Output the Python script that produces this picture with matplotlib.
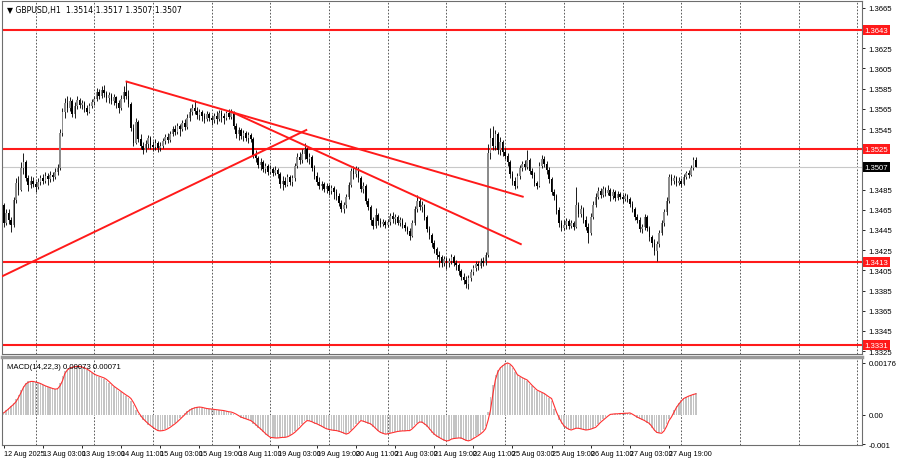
import matplotlib
matplotlib.use("Agg")
import matplotlib.pyplot as plt
import numpy as np

plt.rcParams["font.family"] = ["Liberation Sans", "DejaVu Sans"]

# GBPUSD H1, prices in 1/10000 above 1 (3507 -> 1.3507); bar 0 = 12 Aug 11:00
first_open = 3470
closes = [
    3452, 3462, 3455, 3450, 3475, 3492, 3485, 3506, 3512, 3496,
    3490, 3494, 3491, 3488, 3493, 3496, 3494, 3498, 3495, 3499,
    3497, 3502, 3506, 3541, 3562, 3571, 3566, 3573, 3560, 3568,
    3574, 3569, 3571, 3566, 3562, 3568, 3572, 3575, 3582, 3578,
    3584, 3581, 3576, 3579, 3573, 3577, 3571, 3566, 3575, 3582,
    3578, 3570, 3546, 3531, 3552, 3535, 3528, 3524, 3530, 3536,
    3529, 3527, 3531, 3526, 3528, 3533, 3537, 3534, 3540, 3545,
    3542, 3548, 3545, 3551, 3547, 3556, 3562, 3566, 3563, 3559,
    3562, 3558, 3555, 3560, 3556, 3554, 3558, 3555, 3561, 3558,
    3556, 3561, 3557, 3562, 3548, 3540, 3544, 3538, 3541, 3536,
    3539, 3535, 3519, 3516, 3509, 3512, 3505, 3508, 3502, 3505,
    3501, 3504, 3500, 3491, 3494, 3490, 3497, 3493, 3496, 3508,
    3517, 3514, 3520, 3525, 3515, 3517, 3506, 3498, 3493, 3489,
    3491, 3486, 3489, 3484, 3487, 3483, 3479, 3472, 3466, 3470,
    3478, 3490, 3503, 3500, 3505, 3496, 3486, 3489, 3474, 3468,
    3455, 3449, 3460, 3454, 3451, 3453, 3450, 3453, 3459, 3456,
    3458, 3452, 3455, 3450, 3447, 3444, 3439, 3452, 3466, 3474,
    3468, 3470, 3458, 3446, 3440, 3432, 3426, 3420, 3418, 3412,
    3416, 3412, 3414, 3418, 3412, 3410, 3404, 3398, 3395, 3392,
    3397, 3403, 3407, 3411, 3409, 3414, 3412, 3420, 3521, 3536,
    3528, 3540, 3524, 3532, 3522, 3518, 3512, 3500, 3494, 3489,
    3498, 3506, 3510, 3507, 3514, 3503, 3499, 3492, 3489, 3508,
    3515, 3510, 3504, 3495, 3483, 3479, 3465, 3452, 3447, 3450,
    3454, 3449, 3452, 3448, 3470, 3461, 3466, 3455, 3448, 3442,
    3458, 3470, 3478, 3484, 3480, 3486, 3482, 3485, 3479, 3483,
    3477, 3481, 3478, 3476, 3479, 3476, 3471, 3466, 3458, 3455,
    3446, 3448, 3458, 3447, 3438, 3432, 3424, 3431, 3442, 3452,
    3463, 3474, 3497, 3494, 3496, 3492, 3494, 3491, 3497, 3501,
    3499, 3506, 3514, 3507,
]
highs = [
    3472, 3466, 3466, 3458, 3478, 3496, 3498, 3512, 3521, 3514,
    3499, 3498, 3497, 3494, 3496, 3499, 3500, 3502, 3501, 3503,
    3502, 3506, 3510, 3545, 3566, 3576, 3578, 3577, 3575, 3572,
    3578, 3576, 3574, 3573, 3569, 3571, 3575, 3578, 3586, 3585,
    3588, 3589, 3583, 3582, 3581, 3580, 3578, 3574, 3579, 3588,
    3593, 3584, 3572, 3550, 3556, 3554, 3540, 3532, 3534, 3539,
    3538, 3533, 3535, 3533, 3532, 3536, 3540, 3541, 3543, 3548,
    3549, 3551, 3550, 3554, 3555, 3560, 3566, 3570, 3574, 3567,
    3565, 3564, 3561, 3563, 3562, 3559, 3561, 3563, 3564, 3564,
    3561, 3563, 3565, 3565, 3563, 3551, 3547, 3546, 3544, 3543,
    3542, 3541, 3537, 3524, 3518, 3516, 3514, 3511, 3510, 3509,
    3507, 3508, 3506, 3502, 3498, 3497, 3500, 3499, 3499, 3511,
    3521, 3522, 3525, 3531, 3527, 3521, 3519, 3509, 3502, 3497,
    3494, 3493, 3492, 3491, 3490, 3489, 3486, 3482, 3475, 3473,
    3481, 3493, 3506, 3508, 3508, 3507, 3498, 3493, 3491, 3477,
    3470, 3458, 3467, 3462, 3457, 3456, 3455, 3456, 3462, 3463,
    3461, 3460, 3458, 3457, 3453, 3449, 3447, 3455, 3469, 3480,
    3477, 3474, 3471, 3460, 3449, 3442, 3435, 3428, 3424, 3420,
    3419, 3418, 3417, 3421, 3420, 3415, 3412, 3406, 3402, 3399,
    3400, 3406, 3410, 3414, 3414, 3417, 3418, 3423, 3530, 3546,
    3548, 3544, 3542, 3537, 3534, 3526, 3521, 3514, 3503, 3497,
    3501, 3509, 3513, 3514, 3524, 3516, 3506, 3502, 3494, 3512,
    3519, 3518, 3513, 3507, 3497, 3486, 3481, 3468, 3455, 3455,
    3457, 3456, 3455, 3454, 3488, 3473, 3470, 3468, 3459, 3452,
    3462, 3474, 3482, 3488, 3487, 3489, 3488, 3490, 3487, 3486,
    3485, 3484, 3483, 3481, 3482, 3481, 3478, 3474, 3468, 3461,
    3458, 3451, 3461, 3460, 3449, 3440, 3436, 3434, 3445, 3455,
    3466, 3478, 3500, 3500, 3499, 3498, 3497, 3496, 3500, 3503,
    3504, 3509, 3517, 3517,
]
lows = [
    3448, 3450, 3451, 3443, 3448, 3472, 3480, 3484, 3500, 3494,
    3484, 3487, 3488, 3483, 3486, 3490, 3491, 3492, 3490, 3493,
    3494, 3495, 3499, 3504, 3538, 3556, 3562, 3563, 3557, 3556,
    3565, 3566, 3565, 3562, 3559, 3561, 3566, 3569, 3573, 3575,
    3576, 3577, 3572, 3571, 3570, 3569, 3566, 3561, 3564, 3572,
    3575, 3567, 3543, 3528, 3530, 3532, 3525, 3520, 3522, 3526,
    3525, 3523, 3524, 3522, 3523, 3526, 3530, 3531, 3532, 3538,
    3539, 3540, 3538, 3543, 3544, 3545, 3553, 3559, 3560, 3555,
    3554, 3553, 3551, 3553, 3553, 3549, 3551, 3550, 3553, 3552,
    3550, 3554, 3555, 3555, 3545, 3536, 3534, 3535, 3533, 3533,
    3531, 3532, 3516, 3512, 3506, 3504, 3502, 3501, 3499, 3500,
    3498, 3499, 3496, 3487, 3485, 3488, 3489, 3490, 3489, 3494,
    3506, 3510, 3511, 3515, 3512, 3510, 3503, 3495, 3490, 3486,
    3485, 3483, 3482, 3480, 3481, 3476, 3475, 3469, 3463, 3462,
    3467, 3476, 3488, 3495, 3497, 3493, 3483, 3482, 3471, 3465,
    3450, 3446, 3447, 3450, 3448, 3449, 3447, 3448, 3450, 3452,
    3451, 3450, 3449, 3447, 3444, 3441, 3435, 3438, 3450, 3463,
    3465, 3463, 3455, 3443, 3436, 3428, 3422, 3416, 3408, 3408,
    3409, 3406, 3408, 3411, 3409, 3405, 3400, 3395, 3392, 3388,
    3387, 3394, 3400, 3404, 3405, 3407, 3409, 3410, 3418, 3515,
    3524, 3524, 3520, 3519, 3518, 3515, 3508, 3496, 3490, 3486,
    3487, 3495, 3503, 3504, 3505, 3500, 3496, 3489, 3486, 3488,
    3506, 3507, 3500, 3492, 3480, 3475, 3461, 3448, 3444, 3445,
    3446, 3446, 3447, 3445, 3447, 3458, 3458, 3452, 3445, 3432,
    3440, 3456, 3468, 3476, 3477, 3478, 3479, 3480, 3474, 3476,
    3474, 3475, 3476, 3472, 3474, 3473, 3468, 3463, 3455, 3452,
    3443, 3442, 3445, 3444, 3434, 3428, 3420, 3414, 3428, 3440,
    3449, 3460, 3472, 3490, 3491, 3489, 3490, 3488, 3490, 3495,
    3496, 3498, 3504, 3507,
]

# MACD(14,22,3) in 1e-5 units
macd_main = [
    9, 16, 23, 31, 39, 52, 66, 84, 99, 108,
    113, 114, 112, 110, 107, 104, 100, 96, 93, 90,
    87, 86, 92, 108, 130, 150, 157, 161, 163, 165,
    165, 163, 160, 157, 152, 147, 141, 136, 132, 129,
    126, 122, 116, 109, 101, 94, 88, 82, 76, 70,
    64, 58, 47, 32, 16, 2, -9, -18, -26, -34,
    -40, -46, -52, -56, -55, -53, -50, -45, -40, -34,
    -27, -20, -12, -4, 5, 13, 18, 22, 25, 26,
    26, 24, 22, 20, 19, 18, 17, 16, 15, 14,
    13, 11, 9, 7, 3, -1, -6, -10, -13, -16,
    -19, -23, -30, -37, -45, -52, -60, -68, -74, -78,
    -79, -79, -79, -77, -77, -76, -73, -68, -63, -56,
    -48, -39, -31, -23, -19, -23, -26, -30, -33, -37,
    -42, -46, -49, -51, -53, -54, -55, -58, -61, -64,
    -65, -59, -51, -42, -33, -24, -19, -24, -27, -30,
    -35, -42, -50, -57, -62, -65, -66, -64, -62, -60,
    -58, -56, -55, -55, -54, -54, -51, -44, -35, -28,
    -24, -28, -34, -42, -52, -62, -69, -75, -80, -84,
    -88, -89, -86, -82, -80, -79, -79, -81, -85, -88,
    -88, -84, -79, -74, -68, -62, -53, -40, 10, 60,
    100, 135, 152, 163, 169, 174, 176, 168, 158, 144,
    134, 129, 124, 120, 114, 105, 96, 88, 82, 78,
    74, 69, 63, 58, 45, 20, -2, -18, -31, -41,
    -47, -51, -50, -47, -45, -47, -49, -51, -52, -50,
    -47, -44, -39, -30, -22, -15, -8, -2, 2, 3,
    3, 4, 4, 5, 5, 6, 4, 0, -6, -10,
    -14, -18, -23, -28, -35, -46, -56, -61, -63, -60,
    -48, -30, -14, 0, 16, 30, 41, 51, 57, 61,
    65, 68, 71, 73,
]
macd_signal = [
    6, 13, 20, 28, 35, 44, 58, 74, 92, 104,
    110, 113, 113, 111, 109, 106, 102, 98, 95, 92,
    89, 87, 88, 98, 115, 140, 152, 158, 161, 163,
    164, 164, 162, 159, 155, 150, 144, 138, 134, 131,
    128, 125, 120, 113, 105, 97, 91, 85, 79, 73,
    67, 62, 55, 42, 26, 9, -3, -14, -22, -30,
    -37, -43, -49, -54, -55, -54, -52, -48, -43, -37,
    -31, -24, -16, -8, 0, 9, 15, 20, 23, 25,
    26, 25, 23, 21, 20, 19, 18, 17, 16, 15,
    14, 12, 10, 9, 6, 2, -3, -8, -11, -14,
    -17, -20, -26, -33, -41, -48, -56, -64, -71, -77,
    -78, -79, -79, -78, -77, -77, -75, -71, -66, -60,
    -52, -44, -35, -27, -20, -21, -24, -28, -31, -35,
    -39, -44, -48, -50, -52, -53, -54, -56, -59, -62,
    -66, -63, -55, -47, -38, -29, -20, -22, -25, -28,
    -31, -38, -46, -54, -60, -63, -66, -65, -63, -61,
    -59, -57, -56, -55, -55, -54, -54, -48, -40, -31,
    -25, -25, -31, -37, -47, -57, -66, -72, -77, -82,
    -86, -89, -88, -83, -81, -80, -79, -79, -83, -87,
    -89, -86, -81, -76, -71, -65, -58, -48, -20, 15,
    70, 118, 145, 159, 166, 172, 176, 172, 164, 151,
    136, 131, 126, 122, 118, 109, 100, 92, 84, 80,
    76, 72, 66, 60, 55, 32, 9, -9, -25, -37,
    -44, -49, -52, -49, -46, -46, -48, -50, -52, -51,
    -49, -46, -43, -35, -26, -19, -12, -5, 1, 2,
    3, 3, 4, 4, 5, 5, 6, 2, -3, -8,
    -12, -16, -20, -25, -30, -40, -52, -60, -62, -63,
    -55, -40, -20, -8, 8, 24, 36, 46, 55, 59,
    63, 66, 69, 71,
]

time_labels = ["12 Aug 2025", "13 Aug 03:00", "13 Aug 19:00", "14 Aug 11:00",
               "15 Aug 03:00", "15 Aug 19:00", "18 Aug 11:00", "19 Aug 03:00",
               "19 Aug 19:00", "20 Aug 11:00", "21 Aug 03:00", "21 Aug 19:00",
               "22 Aug 11:00", "25 Aug 03:00", "25 Aug 19:00", "26 Aug 11:00",
               "27 Aug 03:00", "27 Aug 19:00"]
label_bars = [0, 16, 32, 48, 64, 80, 96, 112, 128, 144, 160, 176, 192, 208, 224, 240, 256, 272]
day_bars = [13, 37, 61, 85, 109, 133, 157, 181, 205, 229, 253, 277, 301, 325, 349]

levels = [3643, 3525, 3413, 3331]
last_price = 3507
price_ticks = [3665, 3625, 3605, 3585, 3565, 3545, 3485, 3465, 3445, 3425,
               3405, 3385, 3365, 3345, 3325]
# trend lines: (bar, price) pairs
trend_lines = [
    [(50.2, 3592), (212.2, 3478)],
    [(93.1, 3562), (211.4, 3431)],
    [(-0.8, 3399), (123.7, 3544)],
]

def px(v):
    return 1 + np.asarray(v) / 10000.0

n = len(closes)
x = np.arange(n)
opens = [first_open] + closes[:-1]
o, c, h, l = px(opens), px(closes), px(highs), px(lows)

fig = plt.figure(figsize=(9, 4.6), dpi=100)
ax = fig.add_axes([0.002, 0.2283, 0.956, 0.7674])
ax2 = fig.add_axes([0.002, 0.0304, 0.956, 0.1913])

xlim = (-0.8, 351)
fs = 5.6
narrow = ["Liberation Sans Narrow", "Liberation Sans", "DejaVu Sans"]

# --- price panel
for d in day_bars:
    ax.axvline(d, color="#404040", lw=0.6, ls=(0, (2, 2)), zorder=0)
    ax2.axvline(d, color="#404040", lw=0.6, ls=(0, (2, 2)), zorder=0)

for lv in levels:
    ax.axhline(px(lv), color="#ff1a1a", lw=1.5, zorder=1)
ax.axhline(px(last_price), color="#c8c8c8", lw=0.8, zorder=1)

bull = c >= o
body_col = np.where(bull, "#8c8c8c", "#000000")
ax.vlines(x, l, h, colors="#1a1a1a", lw=0.7, zorder=2)
bottom = np.minimum(o, c)
height = np.maximum(np.abs(c - o), 0.00008)
ax.bar(x, height, bottom=bottom, width=0.65, color=body_col, linewidth=0, zorder=3)

for (x0, p0), (x1, p1) in trend_lines:
    ax.plot([x0, x1], [px(p0), px(p1)], color="#ff1a1a", lw=1.4, zorder=4)

ax.set_xlim(*xlim)
ax.set_ylim(1.33222, 1.36718)
ax.yaxis.tick_right()
ax.set_yticks(px(price_ticks))
ax.set_yticklabels([f"{v:.4f}" for v in px(price_ticks)], fontsize=fs)
ax.tick_params(axis="y", length=2.5, width=0.6, pad=2)
ax.set_xticks([])

tr = ax.get_yaxis_transform()
for lv in levels:
    ax.text(1.003, px(lv), f"{px(lv):.4f}", transform=tr, fontsize=fs, color="white",
            va="center", ha="left", clip_on=False,
            bbox=dict(boxstyle="square,pad=0.2", fc="#ff1a1a", ec="none"))
ax.text(1.003, px(last_price), f"{px(last_price):.4f}", transform=tr, fontsize=fs,
        color="white", va="center", ha="left", clip_on=False,
        bbox=dict(boxstyle="square,pad=0.2", fc="black", ec="none"))

ax.text(0.006, 0.988, "\u25bc GBPUSD,H1  1.3514 1.3517 1.3507 1.3507",
        transform=ax.transAxes, fontsize=fs, va="top", ha="left",
        family=["DejaVu Sans"])

# --- MACD panel
mm = np.array(macd_main) / 1e5
ms = np.array(macd_signal) / 1e5
ax2.bar(x, mm, width=0.6, color="#c4c4c4", linewidth=0, zorder=2)
ax2.plot(x, ms, color="#ff3030", lw=0.8, zorder=3)
ax2.set_xlim(*xlim)
ax2.set_ylim(-0.00103, 0.00196)
ax2.yaxis.tick_right()
ax2.set_yticks([0.00176, 0.0, -0.001])
ax2.set_yticklabels(["0.00176", "0.00", "-0.001"], fontsize=fs)
ax2.tick_params(axis="y", length=2.5, width=0.6, pad=2)
ax2.set_xticks(label_bars)
ax2.set_xticklabels(time_labels, fontsize=5.2, ha="left", family=narrow)
ax2.tick_params(axis="x", length=2, width=0.6, pad=1.5)
ax2.text(0.006, 0.93, "MACD(14,22,3) 0.00073 0.00071", transform=ax2.transAxes,
         fontsize=fs, va="top", ha="left")

for a in (ax, ax2):
    for s in a.spines.values():
        s.set_color("#6e6e6e")
        s.set_linewidth(0.8)
ax2.spines["top"].set_color("#9a9a9a")
ax2.spines["top"].set_linewidth(2.5)

fig.savefig("out.png", dpi=100, facecolor="white")
